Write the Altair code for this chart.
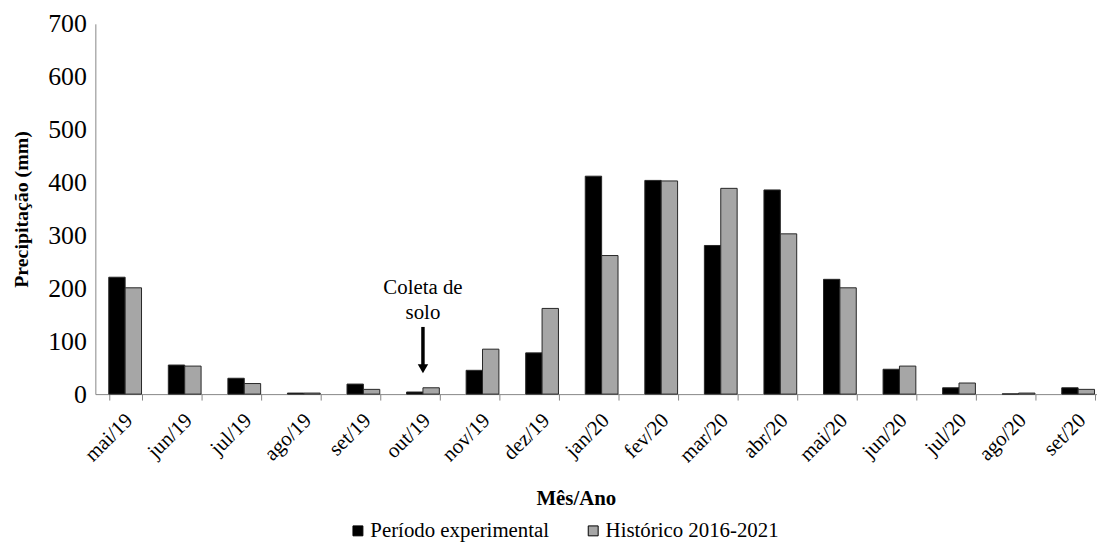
import altair as alt
import pandas as pd

meses = ["mai/19", "jun/19", "jul/19", "ago/19", "set/19", "out/19", "nov/19", "dez/19",
         "jan/20", "fev/20", "mar/20", "abr/20", "mai/20", "jun/20", "jul/20", "ago/20", "set/20"]
periodo = [221, 55, 30, 2, 19, 4, 45, 78, 412, 404, 281, 386, 217, 47, 12, 0.5, 12]
historico = [201, 53, 20, 2, 9, 12, 85, 162, 262, 403, 389, 303, 201, 53, 21, 2, 9]
series = ["Período experimental", "Histórico 2016-2021"]
y_ticks = [0, 100, 200, 300, 400, 500, 600, 700]

anot_mes = "out/19"
anot_linhas = ["Coleta de", "solo"]
anot_y = [201, 154]
seta_inicio = 127
seta_fim = 55
seta_ponta = 48

rows = []
for m, p, h in zip(meses, periodo, historico):
    rows.append({"mes": m, "serie": series[0], "valor": p})
    rows.append({"mes": m, "serie": series[1], "valor": h})
df = pd.DataFrame(rows)

FONT = "Liberation Serif"
AXC = "#868686"

x_scale = alt.Scale(domain=meses, range=[0, 1020], paddingInner=0.45, paddingOuter=0.225)
y_scale = alt.Scale(domain=[0, 700], nice=False, zero=True)

x_enc = alt.X(
    "mes:N", sort=meses, scale=x_scale,
    axis=alt.Axis(
        title="Mês/Ano", titleFont=FONT, titleFontSize=21, titleFontWeight="bold", titleColor="#000",
        titleX=484, titleY=111, titleAlign="center", titleBaseline="alphabetic",
        labelFont=FONT, labelFontSize=21, labelColor="#000", labelAngle=-45,
        labelAlign="right", labelBaseline="middle", labelPadding=17, labelOffset=4,
        tickBand="extent", tickSize=6, tickColor=AXC, domainColor=AXC, grid=False,
    ),
)

bars = alt.Chart(df).mark_bar(stroke="#262626", strokeWidth=1).encode(
    x=x_enc,
    xOffset=alt.XOffset("serie:N", sort=series,
                        scale=alt.Scale(domain=series, paddingInner=0, paddingOuter=0)),
    y=alt.Y(
        "valor:Q", scale=y_scale,
        axis=alt.Axis(
            title="Precipitação (mm)", titleFont=FONT, titleFontSize=20, titleFontWeight="bold",
            titleColor="#000", titleX=-74, titleY=186.5, titleAngle=-90,
            titleAlign="center", titleBaseline="middle",
            values=y_ticks, labelFont=FONT, labelFontSize=26, labelColor="#000",
            labelPadding=9, ticks=False, domainColor=AXC, grid=False,
        ),
    ),
    color=alt.Color(
        "serie:N", sort=series,
        scale=alt.Scale(domain=series, range=["#000000", "#a6a6a6"]),
        legend=alt.Legend(
            title=None, orient="none", legendX=254, legendY=500, direction="horizontal",
            labelFont=FONT, labelFontSize=21, labelColor="#000", labelOffset=2, labelLimit=0,
            symbolType="square", symbolSize=100, symbolStrokeColor="#000",
            symbolStrokeWidth=1, columnPadding=33, padding=0,
        ),
    ),
)

ann_df = pd.DataFrame({"mes": [anot_mes] * len(anot_linhas), "valor": anot_y, "txt": anot_linhas})
texto = alt.Chart(ann_df).mark_text(font=FONT, fontSize=21, color="#000", baseline="middle",
                                    align="center").encode(
    x=alt.X("mes:N", sort=meses, scale=x_scale),
    y=alt.Y("valor:Q", scale=y_scale),
    text="txt:N",
)

seta_df = pd.DataFrame({"mes": [anot_mes], "y1": [seta_inicio], "y2": [seta_fim]})
haste = alt.Chart(seta_df).mark_rule(color="#000", strokeWidth=3.5).encode(
    x=alt.X("mes:N", sort=meses, scale=x_scale),
    y=alt.Y("y1:Q", scale=y_scale),
    y2="y2:Q",
)

ponta_df = pd.DataFrame({"mes": [anot_mes], "valor": [seta_ponta]})
ponta = alt.Chart(ponta_df).mark_point(shape="triangle-down", filled=True, size=110,
                                       color="#000", opacity=1).encode(
    x=alt.X("mes:N", sort=meses, scale=x_scale),
    y=alt.Y("valor:Q", scale=y_scale),
)

chart = alt.layer(bars, texto, haste, ponta).properties(
    width=1009, height=373,
    autosize=alt.AutoSizeParams(type="none"),
    padding={"left": 88, "top": 14, "right": 0, "bottom": 147},
    background="white",
).configure(font=FONT).configure_legend(labelFont=FONT).configure_view(stroke=None)

chart.save("out.html", embed_options={"renderer": "svg", "actions": False})
